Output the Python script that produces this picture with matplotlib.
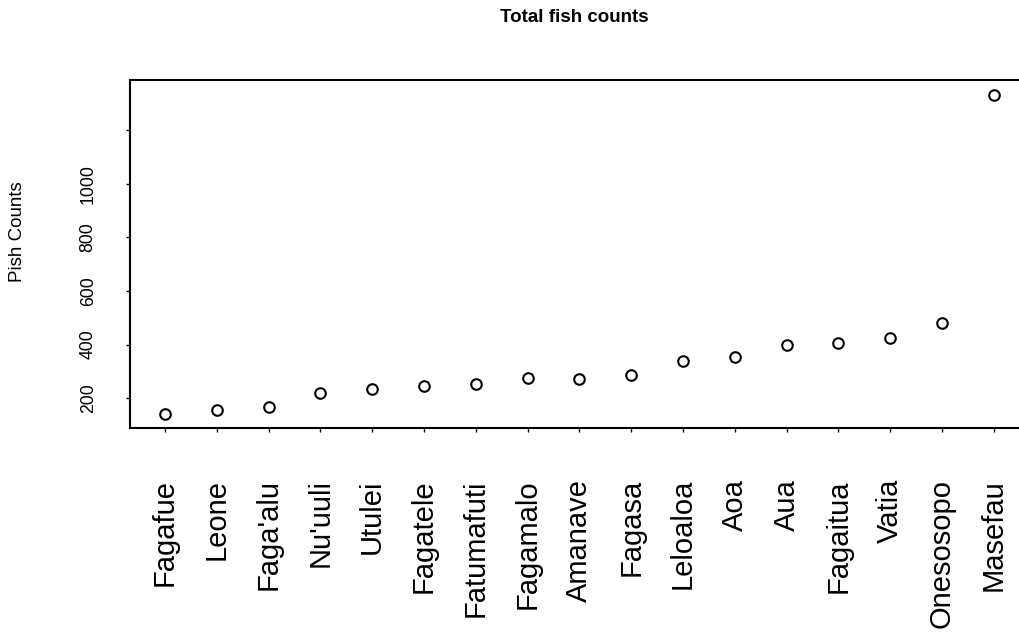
import numpy as np
import matplotlib
matplotlib.use("Agg")
import matplotlib.pyplot as plt

plt.rcParams['font.family'] = ['Liberation Sans', 'DejaVu Sans']

# DATA
sites = ["Fagafue", "Leone", "Faga'alu", "Nu'uuli", "Utulei", "Fagatele",
         "Fatumafuti", "Fagamalo", "Amanave", "Fagasa", "Leloaloa", "Aoa",
         "Aua", "Fagaitua", "Vatia", "Onesosopo", "Masefau"]
counts = [140, 155, 166, 220, 234, 247, 253, 275, 273, 286, 339, 354,
          399, 405, 425, 480, 1330]
yticks = [200, 400, 600, 800, 1000, 1200]
ytick_labels = ["200", "400", "600", "800", "1000", ""]

# FIGURE
fig = plt.figure(figsize=(10.19, 6.33), dpi=100)
# axes runs off the right edge, like the reference
ax = fig.add_axes([130 / 1019, 1 - 427.7 / 633, 900 / 1019, 347.7 / 633])

x = np.arange(len(sites))
ax.plot(x, counts, 'o', mfc='none', mec='black', ms=7.6, mew=1.5)

ax.set_xlim(-0.676, 16.70)
ax.set_ylim(90.4, 1386)

ax.set_xticks(x)
ax.set_xticklabels(sites, rotation=90, fontsize=21, ha='center', va='top')
ax.set_yticks(yticks)
ax.set_yticklabels(ytick_labels, rotation=90, fontsize=12.7, va='center')

ax.tick_params(axis='both', direction='out', length=3, width=1.0)
ax.tick_params(axis='x', pad=34)
ax.tick_params(axis='y', pad=21)

for s in ['left', 'top', 'bottom']:
    ax.spines[s].set_linewidth(1.5)
ax.spines['right'].set_visible(False)

# TEXT
fig.text(574 / 1019, 1 - 18 / 633, "Total fish counts", fontsize=13.5,
         fontweight='bold', ha='center', va='center')
fig.text(18 / 1019, 1 - 232 / 633, "Pish Counts", fontsize=13.5,
         rotation=90, ha='center', va='center')

fig.savefig("out.png", dpi=100)
